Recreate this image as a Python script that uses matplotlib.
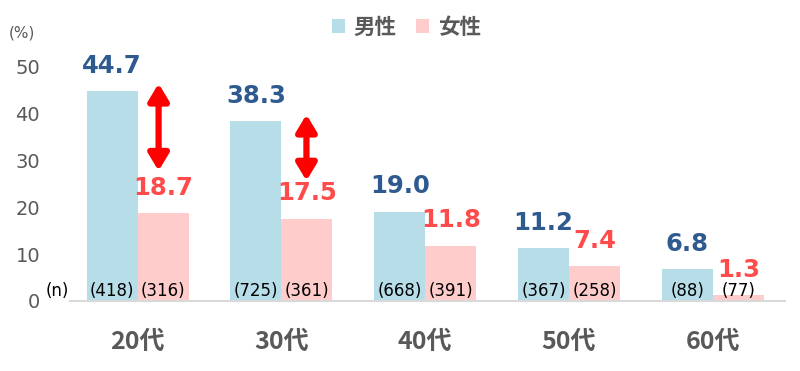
import matplotlib
matplotlib.use("Agg")
import matplotlib.pyplot as plt
import numpy as np

plt.rcParams['font.family'] = ['DejaVu Sans', 'Noto Sans CJK JP']

categories = ["20代", "30代", "40代", "50代", "60代"]
male = [44.7, 38.3, 19.0, 11.2, 6.8]
female = [18.7, 17.5, 11.8, 7.4, 1.3]
male_n = [418, 725, 668, 367, 88]
female_n = [316, 361, 391, 258, 77]
yticks = [0, 10, 20, 30, 40, 50]

BLUE = "#b7dee8"
PINK = "#ffcccc"
BLUE_TXT = "#2e5a90"
RED_TXT = "#ff4b4b"
GRAY = "#595959"

fig = plt.figure(figsize=(8, 3.71), dpi=100)
ax = fig.add_axes([0.0875, 0.1887, 0.8935, 0.6963])

x = np.arange(len(categories))
w = 0.355
ax.bar(x - w / 2, male, w, color=BLUE, label="男性")
ax.bar(x + w / 2, female, w, color=PINK, label="女性")

for i in range(len(categories)):
    ax.text(x[i] - w / 2, male[i] + 5.4, f"{male[i]:.1f}", ha="center", va="center",
            fontsize=17.5, fontweight="bold", color=BLUE_TXT)
    ax.text(x[i] + w / 2, female[i] + 5.4, f"{female[i]:.1f}", ha="center", va="center",
            fontsize=17.5, fontweight="bold", color=RED_TXT)
    ax.text(x[i] - w / 2, 0.3, f"({male_n[i]})", ha="center", va="bottom",
            fontsize=12, color="black")
    ax.text(x[i] + w / 2, 0.3, f"({female_n[i]})", ha="center", va="bottom",
            fontsize=12, color="black")

ax.text(-0.475, 0.3, "(n)", ha="right", va="bottom", fontsize=12, color="black",
        clip_on=False)

# red double arrows showing the gap between men and women
arrows = [(0.146, 46.3, 27.7), (1.174, 39.7, 25.6)]
for xa, top, bot in arrows:
    ax.annotate("", xy=(xa, top), xytext=(xa, bot),
                arrowprops=dict(arrowstyle="<|-|>,head_width=0.6,head_length=1.0",
                                color="red", lw=4.5, shrinkA=0, shrinkB=0))

ax.set_xlim(-0.47, 4.5)
ax.set_ylim(0, 55)
ax.set_yticks(yticks)
ax.set_yticklabels([str(t) for t in yticks], fontsize=14, color=GRAY)
ax.set_xticks(x)
ax.set_xticklabels(categories, fontsize=18, fontweight="bold", color=GRAY,
                   family=['Noto Sans CJK JP'])
ax.tick_params(axis="y", length=0, pad=21.5)
ax.tick_params(axis="x", length=0, pad=21)
for s in ["top", "right", "left"]:
    ax.spines[s].set_visible(False)
ax.spines["bottom"].set_color("#d9d9d9")
ax.spines["bottom"].set_linewidth(1.5)

fig.text(0.011, 0.911, "(%)", fontsize=11, color=GRAY, ha="left", va="center")

leg = fig.legend(loc="center", bbox_to_anchor=(0.508, 0.927), ncol=2, frameon=False,
                 prop={'family': 'Noto Sans CJK JP', 'weight': 'bold', 'size': 15.5},
                 handlelength=0.6, handleheight=0.6, handletextpad=0.4, columnspacing=0.9)
for t in leg.get_texts():
    t.set_color(GRAY)

fig.savefig("out.png", dpi=100)
